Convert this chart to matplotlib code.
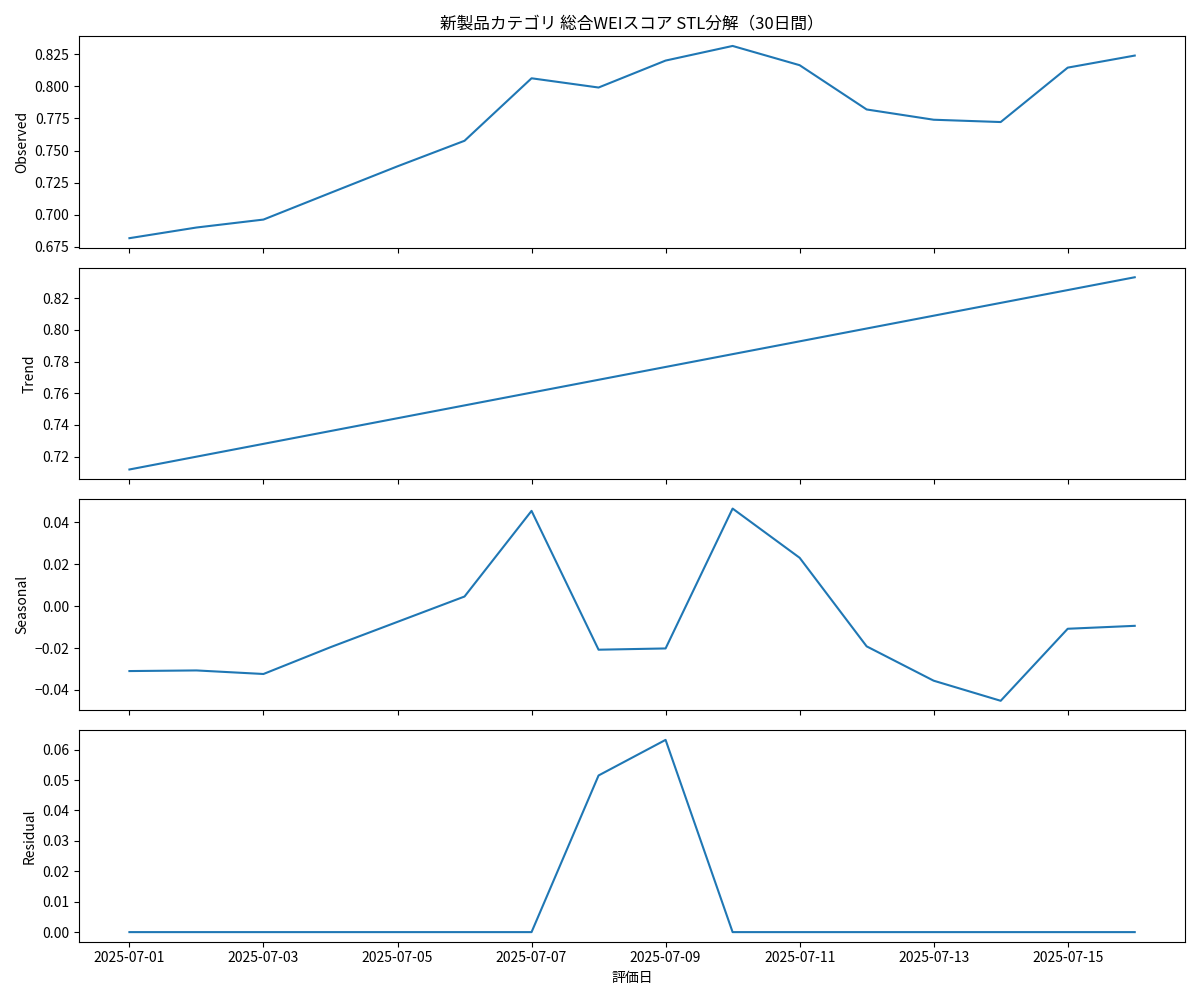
import pandas as pd
import matplotlib
matplotlib.use("Agg")
import matplotlib.pyplot as plt

plt.rcParams['font.family'] = ['Noto Sans CJK JP', 'DejaVu Sans']

# --- Données ---
dates = pd.date_range("2025-07-01", "2025-07-16", freq="D")

observed = [0.6817, 0.6900, 0.6962, 0.7170, 0.7377, 0.7576, 0.8063, 0.7991,
            0.8201, 0.8315, 0.8165, 0.7820, 0.7740, 0.7722, 0.8146, 0.8240]
trend = [0.7118, 0.7199, 0.7280, 0.7361, 0.7442, 0.7523, 0.7604, 0.7685,
         0.7766, 0.7847, 0.7928, 0.8009, 0.8090, 0.8171, 0.8252, 0.8333]
seasonal = [-0.0310, -0.0307, -0.0324, -0.0196, -0.0075, 0.0046, 0.0455, -0.0208,
            -0.0202, 0.0466, 0.0231, -0.0192, -0.0356, -0.0452, -0.0108, -0.0094]
residual = [0.0, 0.0, 0.0, 0.0, 0.0, 0.0, 0.0, 0.0515,
            0.0632, 0.0, 0.0, 0.0, 0.0, 0.0, 0.0, 0.0]

series = [("Observed", observed), ("Trend", trend),
          ("Seasonal", seasonal), ("Residual", residual)]

fig, axes = plt.subplots(4, 1, figsize=(12, 10), sharex=True)

for ax, (nom, valeurs) in zip(axes, series):
    ax.plot(dates, valeurs, color="#1f77b4", linewidth=1.5)
    ax.set_ylabel(nom)

axes[0].set_title("新製品カテゴリ 総合WEIスコア STL分解（30日間）")
axes[-1].set_xlabel("評価日")
axes[-1].set_xticks(dates[::2])
axes[-1].set_xticklabels([d.strftime("%Y-%m-%d") for d in dates[::2]])

plt.tight_layout()
plt.savefig("out.png", dpi=100)
